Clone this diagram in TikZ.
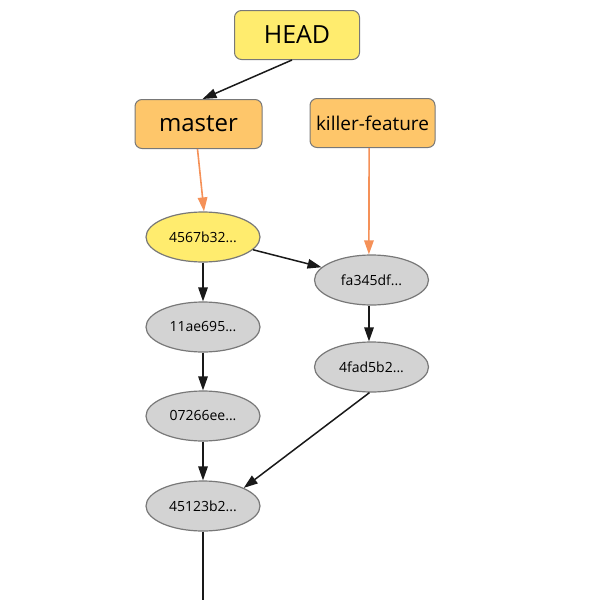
\documentclass[tikz,border=0pt]{standalone}
\usepackage{fontspec}
\setmainfont{Open Sans}
\usetikzlibrary{arrows.meta,shapes.geometric}
\definecolor{headyellow}{RGB}{255,236,110}
\definecolor{branchorange}{RGB}{254,198,106}
\definecolor{commitgray}{RGB}{211,211,211}
\definecolor{bordergray}{RGB}{120,120,120}
\definecolor{refarrow}{RGB}{245,145,88}
\tikzset{
  refbox/.style={draw=bordergray, line width=1pt, rounded corners=7pt, minimum width=125pt, minimum height=49pt, inner sep=0pt},
  commit/.style={ellipse, draw=bordergray, line width=1.2pt, fill=commitgray, minimum width=114pt, minimum height=50pt, inner sep=0pt, font=\fontsize{14}{16}\selectfont},
  parent/.style={-{Triangle[length=14pt,width=9.5pt]}, line width=1.5pt, black!90},
  branchref/.style={-{Triangle[length=14pt,width=9.5pt]}, line width=1.6pt, refarrow},
}
\begin{document}
\begin{tikzpicture}[x=1pt,y=-1pt]
\useasboundingbox (0,0) rectangle (600,600);
\node[refbox, fill=headyellow, font=\fontsize{25}{28}\selectfont] (head) at (297,35) {HEAD};
\node[refbox, fill=branchorange, minimum width=127pt, font=\fontsize{24}{28}\selectfont] (master) at (198.5,124) {master};
\node[refbox, fill=branchorange, font=\fontsize{19}{24}\selectfont] (killer) at (372.5,123) {killer-feature};
\node[commit, fill=headyellow] (c4567) at (203,237) {4567b32...};
\node[commit] (cfa34) at (371.5,280) {fa345df...};
\node[commit] (c11ae) at (203,327) {11ae695...};
\node[commit] (c4fad) at (371.5,367) {4fad5b2...};
\node[commit] (c0726) at (203,416) {07266ee...};
\node[commit] (c4512) at (203,506) {45123b2...};
\coordinate (below) at (203,600);
\draw[parent] ([xshift=-5pt]head.south) -- ([xshift=4pt]master.north);
\draw[branchref] ([xshift=-1pt]master.south) -- ([xshift=1pt]c4567.north);
\draw[branchref] ([xshift=-3.4pt]killer.south) -- ([xshift=-2.6pt]cfa34.north);
\draw[parent] (c4567) -- (cfa34);
\draw[parent] (c4567) -- (c11ae);
\draw[parent] (c11ae) -- (c0726);
\draw[parent] (c0726) -- (c4512);
\draw[parent] ([xshift=-2.5pt]cfa34.south) -- ([xshift=-2.5pt]c4fad.north);
\draw[parent] ([xshift=-2pt]c4fad.south) -- (c4512.north east);
\draw[line width=1.5pt, black!90] (c4512) -- (below);
\end{tikzpicture}
\end{document}
